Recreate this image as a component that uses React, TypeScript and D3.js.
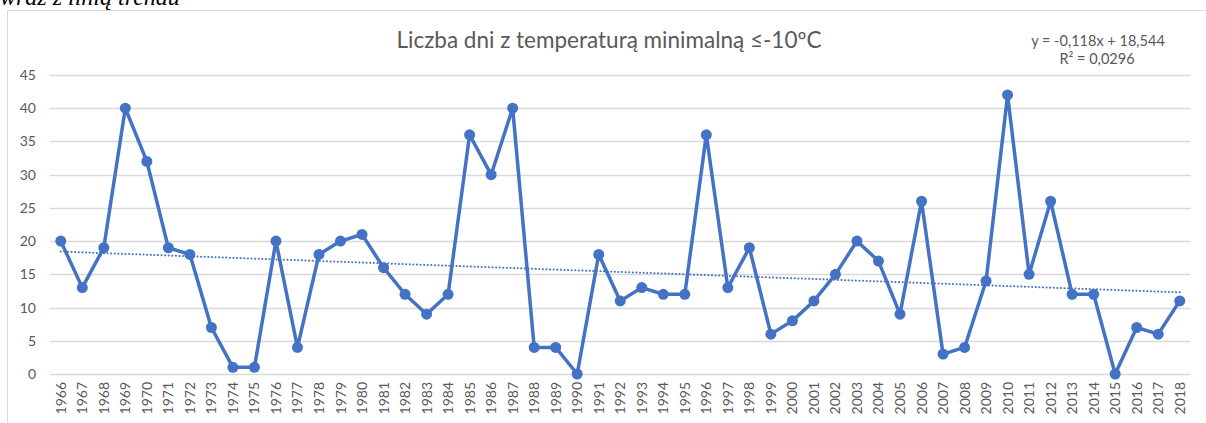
import React, { useEffect, useRef } from 'react';
import * as d3 from 'd3';

const years = d3.range(1966, 2019).map(String);
const days = [
  20, 13, 19, 40, 32, 19, 18, 7, 1, 1, 20, 4, 18, 20, 21, 16, 12, 9, 12, 36,
  30, 40, 4, 4, 0, 18, 11, 13, 12, 12, 36, 13, 19, 6, 8, 11, 15, 20, 17, 9,
  26, 3, 4, 14, 42, 15, 26, 12, 12, 0, 7, 6, 11,
];
const yTicks = [0, 5, 10, 15, 20, 25, 30, 35, 40, 45];
// linear trend from the chart's equation (x = 1..n)
const trendSlope = -0.118;
const trendIntercept = 18.544;

const W = 1206;
const H = 423;
const BLUE = '#4472C4';
const GRAY = '#595959';
const FONT = 'Lato, "Open Sans", sans-serif';

export default function App() {
  const ref = useRef<SVGSVGElement>(null);

  useEffect(() => {
    const svg = d3.select(ref.current);
    svg.selectAll('*').remove();

    // caption fragment cut off at the top of the picture
    svg.append('text')
      .attr('x', 0)
      .attr('y', 5)
      .attr('font-family', '"Liberation Serif", serif')
      .attr('font-style', 'italic')
      .attr('font-size', 24)
      .attr('fill', '#000')
      .text('wraz z linią trendu');

    // chart frame
    svg.append('rect')
      .attr('x', 7.5)
      .attr('y', 10.5)
      .attr('width', W + 10)
      .attr('height', H + 10)
      .attr('fill', '#fff')
      .attr('stroke', '#d9d9d9');

    const x = d3.scaleBand<string>().domain(years).range([50, 1190.5]);
    const cx = (d: string) => (x(d) as number) + x.bandwidth() / 2;
    const y = d3.scaleLinear().domain([0, 45]).range([374, 75]);

    // grid
    svg.append('g')
      .selectAll('line')
      .data(yTicks)
      .enter()
      .append('line')
      .attr('x1', 50)
      .attr('x2', 1190.5)
      .attr('y1', (d) => Math.round(y(d)) + 0.5)
      .attr('y2', (d) => Math.round(y(d)) + 0.5)
      .attr('stroke', '#d9d9d9')
      .attr('stroke-width', 1.3);

    // y labels
    svg.append('g')
      .selectAll('text')
      .data(yTicks)
      .enter()
      .append('text')
      .attr('x', 36)
      .attr('y', (d) => y(d) + 5)
      .attr('text-anchor', 'end')
      .attr('font-family', FONT)
      .attr('font-size', 14)
      .attr('fill', GRAY)
      .text((d) => d);

    // x labels, rotated
    svg.append('g')
      .selectAll('text')
      .data(years)
      .enter()
      .append('text')
      .attr('transform', (d) => `translate(${cx(d) + 5},382) rotate(-90)`)
      .attr('text-anchor', 'end')
      .attr('font-family', FONT)
      .attr('font-size', 14)
      .attr('fill', GRAY)
      .text((d) => d);

    // trend line
    const trend = years.map((yr, i) => [cx(yr), y(trendSlope * (i + 1) + trendIntercept)] as [number, number]);
    svg.append('path')
      .attr('d', d3.line()(trend))
      .attr('fill', 'none')
      .attr('stroke', BLUE)
      .attr('stroke-width', 2)
      .attr('stroke-dasharray', '0.1,3.5')
      .attr('stroke-linecap', 'round');

    // data line
    const line = d3.line<number>()
      .x((_, i) => cx(years[i]))
      .y((d) => y(d));
    svg.append('path')
      .attr('d', line(days))
      .attr('fill', 'none')
      .attr('stroke', BLUE)
      .attr('stroke-width', 3.5)
      .attr('stroke-linejoin', 'round');

    svg.append('g')
      .selectAll('circle')
      .data(days)
      .enter()
      .append('circle')
      .attr('cx', (_, i) => cx(years[i]))
      .attr('cy', (d) => y(d))
      .attr('r', 5.5)
      .attr('fill', BLUE);

    // title
    svg.append('text')
      .attr('x', 609)
      .attr('y', 48)
      .attr('text-anchor', 'middle')
      .attr('font-family', FONT)
      .attr('font-size', 22.5)
      .attr('fill', GRAY)
      .text('Liczba dni z temperaturą minimalną ≤-10ºC');

    // trend equation
    const eq = svg.append('g')
      .attr('font-family', FONT)
      .attr('font-size', 14.5)
      .attr('fill', GRAY)
      .attr('text-anchor', 'middle');
    eq.append('text').attr('x', 1098).attr('y', 46).text('y = -0,118x + 18,544');
    eq.append('text').attr('x', 1097).attr('y', 64).text('R² = 0,0296');
  }, []);

  return (
    <svg
      ref={ref}
      width={W}
      height={H}
      style={{ position: 'absolute', left: 0, top: 0, background: '#fff' }}
    />
  );
}
